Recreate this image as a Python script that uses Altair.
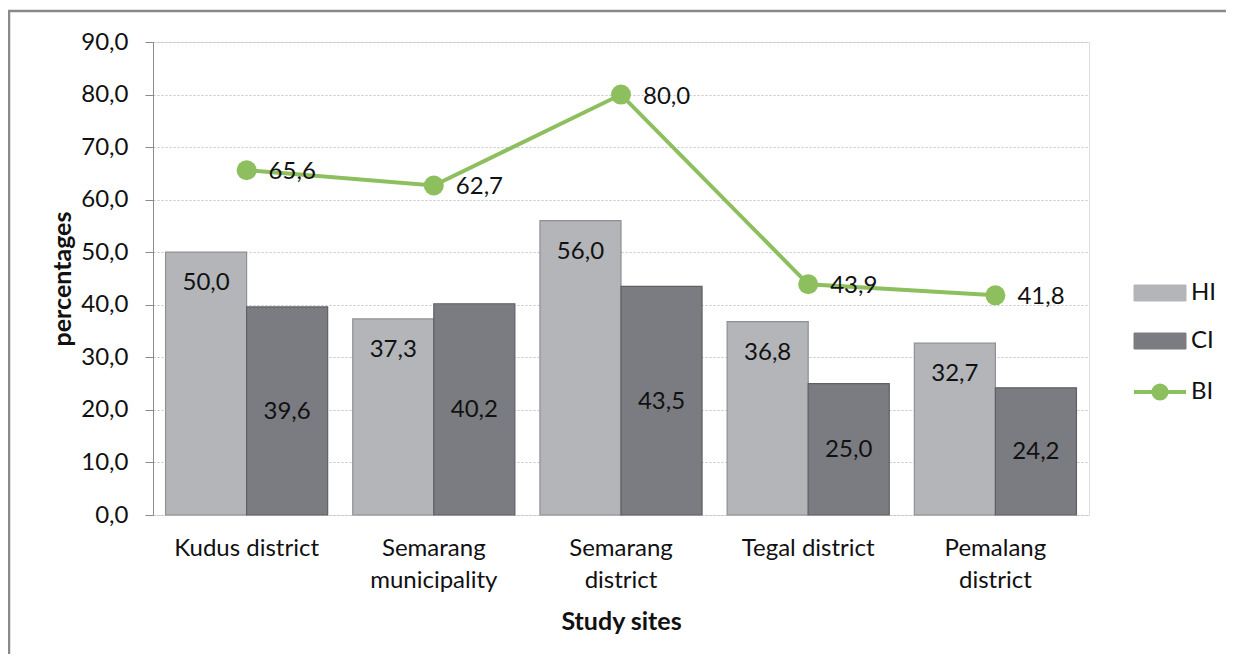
import altair as alt
import pandas as pd

sites = ["Kudus district", "Semarang municipality", "Semarang district",
         "Tegal district", "Pemalang district"]
hi_vals = [50.0, 37.3, 56.0, 36.8, 32.7]
ci_vals = [39.6, 40.2, 43.5, 25.0, 24.2]
bi_vals = [65.6, 62.7, 80.0, 43.9, 41.8]
y_ticks = [0, 10, 20, 30, 40, 50, 60, 70, 80, 90]
series_names = ["HI", "CI", "BI"]

rows = []
for s, h, c, b in zip(sites, hi_vals, ci_vals, bi_vals):
    rows.append({"site": s, "series": "HI", "value": h})
    rows.append({"site": s, "series": "CI", "value": c})
    rows.append({"site": s, "series": "BI", "value": b})
df = pd.DataFrame(rows)

FONT = "Lato"
FS = 24
TFS = 25
HI_FILL, HI_STROKE = "#b3b5b8", "#8e9093"
CI_FILL, CI_STROKE = "#7b7c81", "#5f6065"
GREEN = "#8dbf5f"
W, H = 936, 473

color_scale = alt.Scale(domain=series_names, range=[HI_FILL, CI_FILL, GREEN])

legend = alt.Legend(
    title=None, orient="none", legendX=995, legendY=239,
    symbolSize=1600, labelFontSize=FS, labelFont=FONT, labelColor="#111",
    labelOffset=19, rowPadding=24, padding=0,
    symbolType=alt.ExprRef("datum.value === 'BI' ? 'M-1.3,0H1.3M0.33,0A0.33,0.33,0,1,1,-0.33,0A0.33,0.33,0,1,1,0.33,0Z' : 'M-1.3,-0.4H1.3V0.4H-1.3Z'"),
    symbolFillColor=alt.ExprRef(f"datum.value === 'HI' ? '{HI_FILL}' : datum.value === 'CI' ? '{CI_FILL}' : '{GREEN}'"),
    symbolStrokeColor=alt.ExprRef(f"datum.value === 'HI' ? '{HI_STROKE}' : datum.value === 'CI' ? '{CI_STROKE}' : '{GREEN}'"),
    symbolStrokeWidth=alt.ExprRef("datum.value === 'BI' ? 4 : 1"),
    symbolOpacity=1,
)

x_enc = alt.X(
    "site:N", sort=sites,
    scale=alt.Scale(paddingInner=0.134, paddingOuter=0.067),
    axis=alt.Axis(
        title="Study sites", titleFont=FONT, titleFontSize=TFS, titleFontWeight="bold",
        titleColor="#111", titleY=106, titleBaseline="middle",
        labelFont=FONT, labelFontSize=FS, labelColor="#111", labelAngle=0,
        labelPadding=21, labelLineHeight=32,
        labelExpr="(datum.label == 'Kudus district' || datum.label == 'Tegal district') ? datum.label : split(datum.label, ' ')",
        ticks=False, tickSize=0, domain=False, grid=False,
    ),
)
y_scale = alt.Scale(domain=[0, 90], nice=False, zero=True)
y_axis = alt.Axis(
    title="percentages", titleFont=FONT, titleFontSize=TFS, titleFontWeight="bold",
    titleColor="#111", titleX=-91, titleY=H / 2, titleAngle=-90,
    titleAlign="center", titleBaseline="middle",
    values=y_ticks, labelExpr="replace(format(datum.value, '.1f'), '.', ',')",
    labelFont=FONT, labelFontSize=FS, labelColor="#111", labelPadding=17,
    tickSize=8, tickColor="#8a8a8a", domainColor="#8a8a8a",
    grid=True, gridColor="#c4c4c4", gridDash=[2, 2], gridWidth=1,
)

base = alt.Chart(df)

bars = base.transform_filter(alt.datum.series != "BI").mark_bar(strokeWidth=1.2).encode(
    x=x_enc,
    xOffset=alt.XOffset("series:N", sort=["HI", "CI"], scale=alt.Scale(paddingInner=0, paddingOuter=0)),
    y=alt.Y("value:Q", scale=y_scale, axis=y_axis),
    color=alt.Color("series:N", scale=color_scale, legend=legend),
    stroke=alt.condition(alt.datum.series == "HI", alt.value(HI_STROKE), alt.value(CI_STROKE)),
)

lab_expr = "replace(format(datum.value, '.1f'), '.', ',')"

hi_labels = base.transform_filter(alt.datum.series == "HI").transform_calculate(
    lab=lab_expr
).mark_text(font=FONT, fontSize=FS, color="#111", baseline="middle", dy=31).encode(
    x=alt.X("site:N", sort=sites),
    xOffset=alt.XOffset("series:N", sort=["HI", "CI"]),
    y=alt.Y("value:Q"),
    text="lab:N",
)

ci_labels = base.transform_filter(alt.datum.series == "CI").transform_calculate(
    lab=lab_expr, mid="datum.value / 2"
).mark_text(font=FONT, fontSize=FS, color="#111", baseline="middle", dy=1).encode(
    x=alt.X("site:N", sort=sites),
    xOffset=alt.XOffset("series:N", sort=["HI", "CI"]),
    y=alt.Y("mid:Q"),
    text="lab:N",
)

bi_base = base.transform_filter(alt.datum.series == "BI")
line = bi_base.mark_line(strokeWidth=4).encode(
    x=alt.X("site:N", sort=sites),
    y=alt.Y("value:Q"),
    color=alt.Color("series:N", scale=color_scale, legend=legend),
)
pts = bi_base.mark_point(filled=True, size=400, opacity=1).encode(
    x=alt.X("site:N", sort=sites),
    y=alt.Y("value:Q"),
    color=alt.Color("series:N", scale=color_scale, legend=legend),
)
bi_labels = bi_base.transform_calculate(lab=lab_expr).mark_text(
    font=FONT, fontSize=FS, color="#111", align="left", baseline="middle", dx=22, dy=2
).encode(
    x=alt.X("site:N", sort=sites),
    y=alt.Y("value:Q"),
    text="lab:N",
)

border_src = pd.DataFrame({"k": [0]})
left_border = alt.Chart(border_src).mark_rule(color="#8a8a8a", strokeWidth=2.5).encode(
    x=alt.value(-144), y=alt.value(-31), y2=alt.value(H + 150)
)
top_border = alt.Chart(border_src).mark_rule(color="#8a8a8a", strokeWidth=2.5).encode(
    y=alt.value(-31), x=alt.value(-145), x2=alt.value(W + 150)
)

chart = alt.layer(
    bars, hi_labels, ci_labels, line, pts, bi_labels, left_border, top_border
).resolve_scale(color="shared").properties(
    width=W, height=H,
    autosize=alt.AutoSizeParams(type="none"),
    padding={"left": 145, "top": 34, "right": 137, "bottom": 139},
).configure_view(stroke=None).configure(font=FONT, background="white")

chart.save("out.html", embed_options={"renderer": "svg", "actions": False})
